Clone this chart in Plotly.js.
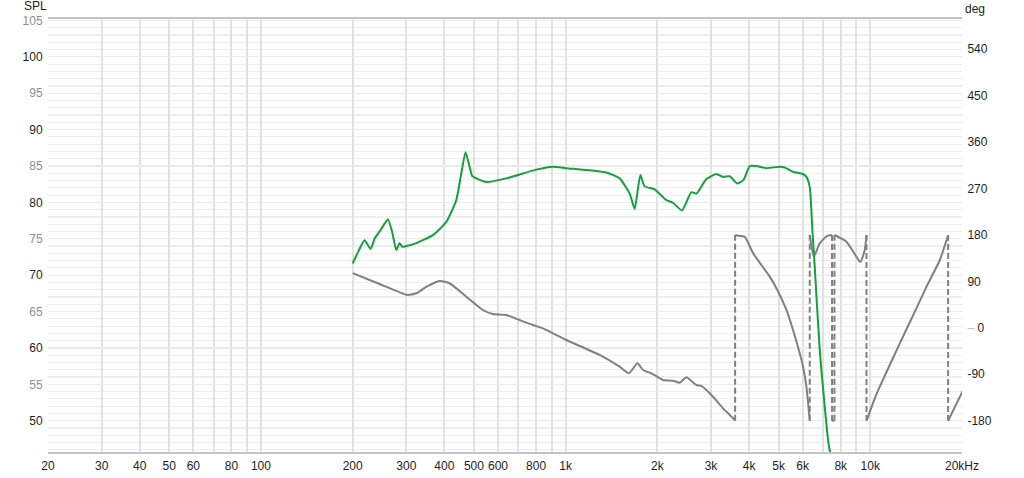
<!DOCTYPE html>
<html>
<head>
<meta charset="utf-8">
<script src="https://cdn.plot.ly/plotly-3.0.1.min.js"></script>
<style>html,body{margin:0;padding:0;background:#fff;}#chart{width:1024px;height:478px;}</style>
</head>
<body>
<div id="chart"></div>
<script>
// SPL magnitude (dB) vs frequency (Hz)
const splFreq = [200, 209, 218.7, 229, 236, 248, 261, 270, 278, 285, 291, 300, 323.5, 366.6, 405.6, 437.5, 454.6, 469.4, 484, 494, 509, 549, 638.7, 801, 908.7, 1005, 1360, 1504, 1623, 1685, 1759, 1817, 1960, 2141, 2251, 2410, 2587, 2687, 2897, 3125, 3286, 3457, 3652, 3838, 4021, 4228, 4560, 5044, 5237, 5578, 6016, 6172, 6329, 6460, 6573, 6826, 7270, 7500];
const splDb = [71.6, 73.3, 74.8, 73.6, 75.0, 76.3, 77.7, 75.8, 73.45, 74.4, 73.9, 74.0, 74.4, 75.5, 77.3, 80.3, 84.0, 86.9, 84.9, 83.6, 83.3, 82.8, 83.3, 84.5, 84.9, 84.7, 84.1, 83.3, 81.2, 79.1, 83.75, 82.2, 81.8, 80.3, 79.95, 78.9, 81.4, 81.2, 83.2, 83.9, 83.5, 83.6, 82.6, 83.1, 85.0, 85.0, 84.7, 84.9, 84.8, 84.2, 83.9, 83.5, 82.1, 76.0, 71.1, 59.7, 47.3, 44.0];

// Phase (deg, wrapped to +-180) vs frequency (Hz)
const phaseFreq = [200, 245, 300, 307.5, 323.5, 350, 385.7, 416, 472, 535, 577, 638.7, 706, 781, 842, 1005, 1293, 1504, 1614, 1720, 1795, 1911, 2087, 2251, 2368, 2490, 2687, 2790, 3046, 3286, 3544, 3600, 3600, 3650, 3871, 4126, 4677, 4920, 5306, 5578, 5868, 6016, 6171, 6329, 6329, 6523, 6826, 7200, 7490, 7490, 7627, 7627, 8352, 9237, 9307, 9592, 9717, 9717, 9836, 10292, 10745, 12500, 13841, 15296, 16914, 18010, 18010, 20190];
const phaseDeg = [106, 85, 64, 64, 67, 79.8, 90.8, 86.4, 60.4, 34.6, 26.8, 24.9, 15.2, 5.5, -0.9, -23.6, -52.6, -75.3, -88.1, -68.7, -81.7, -88.1, -101, -102.5, -106.3, -95.9, -110.8, -112.7, -133.5, -156, -175.3, -180, 180, 179, 176.7, 144.5, 99.2, 76.7, 34.6, -4.2, -49.3, -75.3, -114, -180, 180, 138, 163.9, 178, 180, -180, -180, 180, 167, 128.2, 128.2, 150.9, 180, -180, -172, -140, -114, -30, 24.9, 79.8, 131.5, 180, -180, -120.5];

// Axis tick labels
const freqTickVals = [20, 30, 40, 50, 60, 70, 80, 90, 100, 200, 300, 400, 500, 600, 700, 800, 900, 1000, 2000, 3000, 4000, 5000, 6000, 7000, 8000, 9000, 10000, 20000];
const freqTickText = ['20', '30', '40', '50', '60', '', '80', '', '100', '200', '300', '400', '500', '600', '', '800', '', '1k', '2k', '3k', '4k', '5k', '6k', '', '8k', '', '10k', '20kHz'];
const decadeVals = [100, 1000, 10000];
const splTickVals = [50, 55, 60, 65, 70, 75, 80, 85, 90, 95, 100, 105];
const splMajorVals = [50, 60, 70, 80, 90, 100];
const degTickVals = [-180, -90, 0, 90, 180, 270, 360, 450, 540];

// split phase into solid segments and dashed wrap connectors
const solidX = [], solidY = [], dashX = [], dashY = [];
for (let i = 0; i < phaseFreq.length; i++) {
  if (i > 0 && Math.abs(phaseDeg[i] - phaseDeg[i - 1]) > 180) {
    solidX.push(null); solidY.push(null);
    dashX.push(phaseFreq[i - 1], phaseFreq[i], null);
    dashY.push(phaseDeg[i - 1], phaseDeg[i], null);
  }
  solidX.push(phaseFreq[i]); solidY.push(phaseDeg[i]);
}

const splText = splTickVals.map(v => (v % 10 === 0)
  ? '<span style="color:#1e1e1e">' + v + '</span>'
  : '<span style="color:#8e8e8e">' + v + '</span>');
const degText = degTickVals.map(v => v === 0
  ? '<span style="color:#a9c2e6">\u2013</span> 0' : String(v));

const gray = '#808080';
const traces = [
  {x: solidX, y: solidY, xaxis: 'x', yaxis: 'y', mode: 'lines', connectgaps: false,
   line: {color: gray, width: 2, shape: 'spline', smoothing: 0.5}, hoverinfo: 'skip'},
  {x: dashX, y: dashY, xaxis: 'x', yaxis: 'y', mode: 'lines', connectgaps: false,
   line: {color: gray, width: 2, dash: '6px,3px'}, hoverinfo: 'skip'},
  {x: splFreq, y: splDb, xaxis: 'x', yaxis: 'y2', mode: 'lines',
   line: {color: '#14a03c', width: 2, shape: 'spline', smoothing: 0.5}, hoverinfo: 'skip'}
];

const font = {family: 'Liberation Sans, Arial, sans-serif', size: 12, color: '#1e1e1e'};
const xr = [Math.log10(20), Math.log10(20000)];
const yr = [45.7, 105.2];
const y2r = [-240.7, 598.7];

const layout = {
  width: 1024, height: 478,
  margin: {l: 48, r: 62, t: 19, b: 26, pad: 0},
  paper_bgcolor: '#ffffff', plot_bgcolor: '#ffffff',
  showlegend: false, font: font,
  xaxis: {type: 'log', range: xr, tickmode: 'array', tickvals: freqTickVals, ticktext: freqTickText,
    showgrid: true, gridcolor: '#e2e2e2', gridwidth: 2, zeroline: false,
    showline: true, mirror: true, linecolor: '#c4c4c4', linewidth: 2,
    ticks: 'outside', ticklen: 2, tickcolor: 'rgba(0,0,0,0)', tickfont: font, fixedrange: true},
  xaxis2: {type: 'log', range: xr, overlaying: 'x', anchor: 'y', tickmode: 'array', tickvals: decadeVals,
    showticklabels: false, showgrid: true, gridcolor: '#b2b2b2', gridwidth: 2, zeroline: false,
    showline: false, ticks: '', fixedrange: true},
  yaxis: {range: y2r, side: 'right', tickmode: 'array', tickvals: degTickVals, ticktext: degText,
    showgrid: false, zeroline: false, showline: false, ticks: 'outside', ticklen: 2,
    tickcolor: 'rgba(0,0,0,0)', tickfont: font, fixedrange: true},
  yaxis2: {range: yr, overlaying: 'y', side: 'left', anchor: 'x', tickmode: 'array', tickvals: splTickVals,
    ticktext: splText, showgrid: true, gridcolor: '#ebebeb', gridwidth: 1.2, zeroline: false,
    showline: false, ticks: 'outside', ticklen: 2, tickcolor: 'rgba(0,0,0,0)', tickfont: font,
    minor: {dtick: 1, tick0: 0, showgrid: true, gridcolor: '#eeeeee', gridwidth: 1.2, ticks: ''},
    fixedrange: true},
  yaxis3: {range: yr, overlaying: 'y', anchor: 'x', side: 'left', tickmode: 'array', tickvals: splMajorVals,
    showticklabels: false, showgrid: true, gridcolor: '#dadada', gridwidth: 1.2, zeroline: false,
    showline: false, ticks: '', fixedrange: true},
  annotations: [
    {text: 'SPL', xref: 'paper', yref: 'paper', x: -0.0142, y: 1.03, xanchor: 'center', yanchor: 'middle',
     showarrow: false, font: font},
    {text: 'deg', xref: 'paper', yref: 'paper', x: 1.0142, y: 1.023, xanchor: 'center', yanchor: 'middle',
     showarrow: false, font: font}
  ]
};

Plotly.newPlot('chart', traces, layout, {displayModeBar: false, staticPlot: true});
</script>
</body>
</html>
